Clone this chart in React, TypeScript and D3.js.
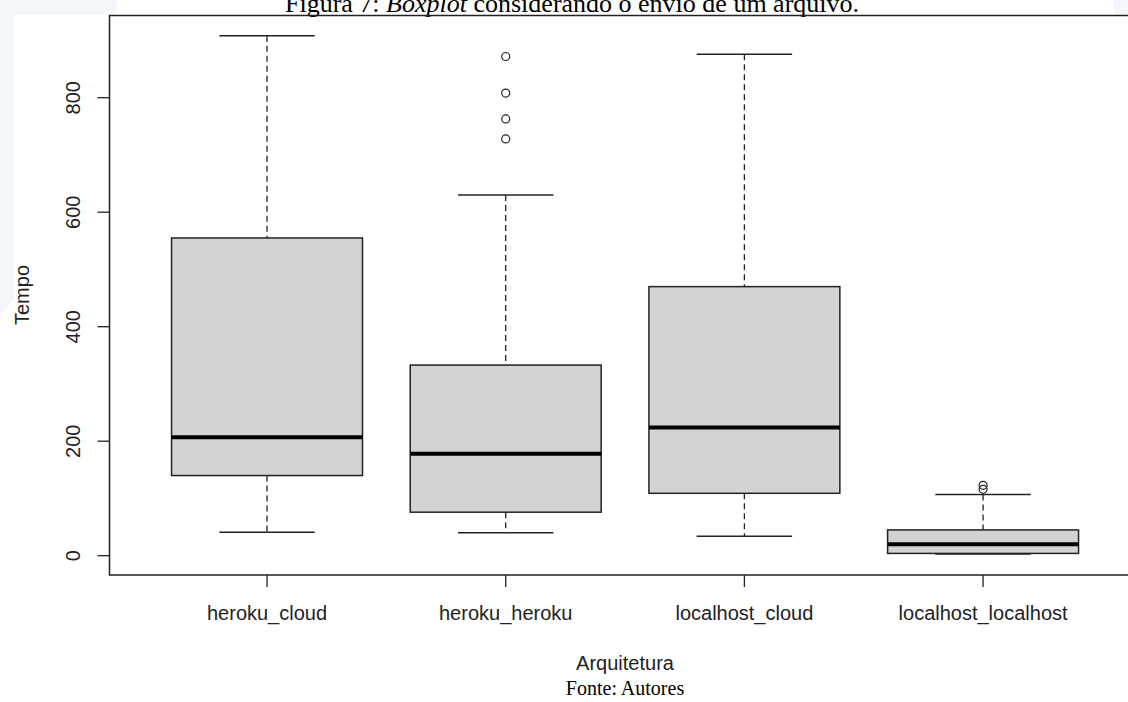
import React from "react";
import * as d3 from "d3";

const categories = ["heroku_cloud", "heroku_heroku", "localhost_cloud", "localhost_localhost"];
const lowerWhisker = [41, 40, 34, 3];
const q1 = [140, 76, 109, 4];
const median = [207, 178, 224, 20];
const q3 = [555, 333, 470, 45];
const upperWhisker = [908, 630, 876, 107];
const outliers: number[][] = [[], [872, 808, 763, 728], [], [116, 123]];
const yTicks = [0, 200, 400, 600, 800];

const W = 1128;
const H = 702;
const plotLeft = 109.5;
const plotTop = 15.5;
const plotBottom = 575;

export default function App() {
  const x = d3.scaleLinear().domain([0.34, 4.66]).range([plotLeft, 1140.6]);
  const y = d3.scaleLinear().domain([0, 800]).range([555.7, 97.7]);
  const boxW = x(1.8) - x(1);
  const capW = boxW / 2;
  const stroke = "#222";
  const font = "'Liberation Sans', Arial, sans-serif";
  const serif = "'Liberation Serif', 'Times New Roman', serif";
  const fs = 20;
  const bg = "#f3f7fc";

  return (
    <svg width={W} height={H} style={{ position: "absolute", left: 0, top: 0, background: "#fff" }}>
      {/* faint background shapes */}
      <path d={`M0,0 L118,0 L115,15 L14,15 L14,300 L0,315 Z`} fill={bg} />
      <path d={`M1113,0 L1128,0 L1128,15 L1115,15 Z`} fill={bg} />

      {/* title */}
      <text x={572} y={12} textAnchor="middle" fontFamily={serif} fontSize={26} fill="#000">
        Figura 7: <tspan fontStyle="italic">Boxplot</tspan> considerando o envio de um arquivo.
      </text>

      {/* boxes */}
      {categories.map((c, i) => {
        const cx = x(i + 1);
        return (
          <g key={c}>
            <line x1={cx} x2={cx} y1={y(upperWhisker[i])} y2={y(q3[i])} stroke={stroke} strokeWidth={1.3} strokeDasharray="6,4" />
            <line x1={cx} x2={cx} y1={y(q1[i])} y2={y(lowerWhisker[i])} stroke={stroke} strokeWidth={1.3} strokeDasharray="6,4" />
            <line x1={cx - capW / 2} x2={cx + capW / 2} y1={y(upperWhisker[i])} y2={y(upperWhisker[i])} stroke={stroke} strokeWidth={1.5} />
            <line x1={cx - capW / 2} x2={cx + capW / 2} y1={y(lowerWhisker[i])} y2={y(lowerWhisker[i])} stroke={stroke} strokeWidth={1.5} />
            <rect x={cx - boxW / 2} y={y(q3[i])} width={boxW} height={y(q1[i]) - y(q3[i])} fill="#d3d3d3" stroke={stroke} strokeWidth={1.5} />
            <line x1={cx - boxW / 2} x2={cx + boxW / 2} y1={y(median[i])} y2={y(median[i])} stroke="#000" strokeWidth={4} />
            {outliers[i].map((o, j) => (
              <circle key={j} cx={cx} cy={y(o)} r={4} fill="none" stroke={stroke} strokeWidth={1.2} />
            ))}
          </g>
        );
      })}

      {/* frame */}
      <path d={`M${W + 5},${plotTop} L${plotLeft},${plotTop} L${plotLeft},${plotBottom} L${W + 5},${plotBottom}`} fill="none" stroke={stroke} strokeWidth={1.5} />

      {/* y axis */}
      {yTicks.map((t) => (
        <g key={t}>
          <line x1={plotLeft - 12} x2={plotLeft} y1={y(t)} y2={y(t)} stroke={stroke} strokeWidth={1.3} />
          <text transform={`translate(80,${y(t)}) rotate(-90)`} textAnchor="middle" fontFamily={font} fontSize={fs} fill="#222">
            {t}
          </text>
        </g>
      ))}

      {/* x axis */}
      {categories.map((c, i) => (
        <g key={c}>
          <line x1={x(i + 1)} x2={x(i + 1)} y1={plotBottom} y2={plotBottom + 12} stroke={stroke} strokeWidth={1.3} />
          <text x={x(i + 1)} y={620} textAnchor="middle" fontFamily={font} fontSize={fs} fill="#222">
            {c}
          </text>
        </g>
      ))}

      <text transform={`translate(29,295) rotate(-90)`} textAnchor="middle" fontFamily={font} fontSize={fs} fill="#222">
        Tempo
      </text>
      <text x={625} y={670} textAnchor="middle" fontFamily={font} fontSize={fs} fill="#222">
        Arquitetura
      </text>
      <text x={625} y={695} textAnchor="middle" fontFamily={serif} fontSize={20} fill="#000">
        Fonte: Autores
      </text>
    </svg>
  );
}
